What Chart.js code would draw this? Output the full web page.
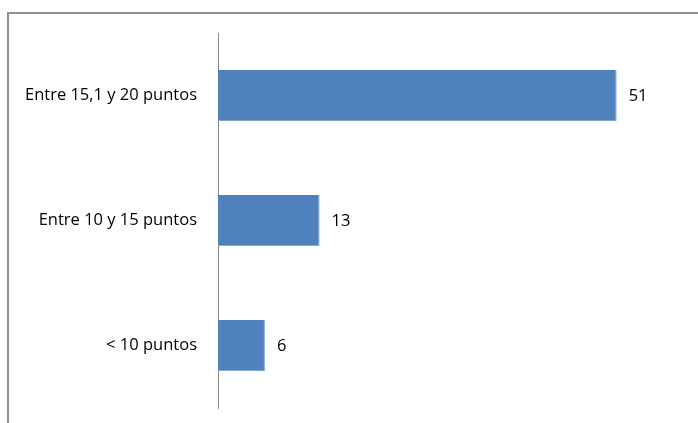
<!DOCTYPE html>
<html>
<head>
<meta charset="utf-8">
<script src="https://cdn.jsdelivr.net/npm/chart.js@4/dist/chart.umd.min.js"></script>
<style>
  html, body { margin: 0; padding: 0; background: #fff; }
  #wrap { position: relative; width: 698px; height: 423px; overflow: hidden; }
  #frame { position: absolute; left: 7px; top: 12px; width: 720px; height: 440px;
           border-left: 2px solid #8f8f8f; border-top: 2px solid #8f8f8f; }
  canvas { position: absolute; left: 0; top: 0; }
</style>
</head>
<body>
<div id="wrap">
  <div id="frame"></div>
  <canvas id="chart" width="698" height="423"></canvas>
</div>
<script>
const categories = ['Entre 15,1 y 20 puntos', 'Entre 10 y 15 puntos', '< 10 puntos'];
const values = [51, 13, 6];

const font = { family: 'Open Sans', size: 16.5 };

// draws the value just past the end of each bar
const valueLabels = {
  id: 'valueLabels',
  afterDatasetsDraw(chart) {
    const ctx = chart.ctx;
    const meta = chart.getDatasetMeta(0);
    ctx.save();
    ctx.font = font.size + 'px ' + font.family;
    ctx.fillStyle = '#000';
    ctx.textAlign = 'left';
    ctx.textBaseline = 'middle';
    meta.data.forEach((bar, i) => {
      ctx.fillText(String(values[i]), bar.x + 12, bar.y + 1);
    });
    ctx.restore();
  }
};

new Chart(document.getElementById('chart'), {
  type: 'bar',
  data: {
    labels: categories,
    datasets: [{
      data: values,
      backgroundColor: '#4F81BD',
      borderColor: '#86a8d6',
      borderWidth: { top: 0, left: 0, right: 1, bottom: 1 },
      borderSkipped: false,
      barPercentage: 1,
      categoryPercentage: 0.408
    }]
  },
  options: {
    indexAxis: 'y',
    responsive: false,
    animation: false,
    layout: { padding: { top: 33, bottom: 15, left: 0, right: 11 } },
    plugins: { legend: { display: false }, tooltip: { enabled: false } },
    scales: {
      x: {
        display: false,
        min: 0,
        max: 60
      },
      y: {
        afterFit(scale) {
          scale.width = 218;
          scale.paddingTop = 0;
          scale.paddingBottom = 0;
        },
        grid: { display: false, drawTicks: false },
        border: { display: true, color: '#868686', width: 1 },
        ticks: { color: '#000', font: font, padding: 21 }
      }
    }
  },
  plugins: [valueLabels]
});
</script>
</body>
</html>
